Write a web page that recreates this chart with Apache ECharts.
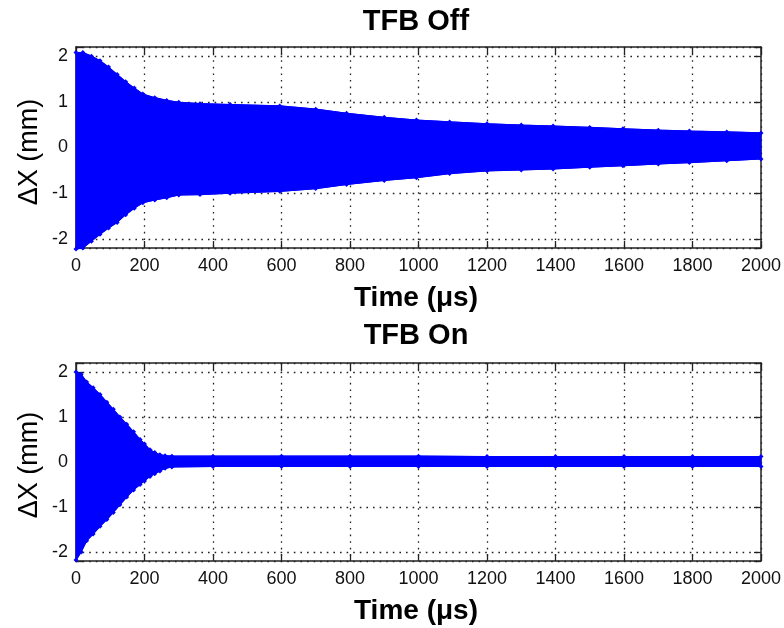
<!DOCTYPE html>
<html>
<head>
<meta charset="utf-8">
<script src="https://cdn.jsdelivr.net/npm/echarts@6/dist/echarts.min.js"></script>
<style>
html,body{margin:0;padding:0;background:#fff;}
#chart{width:784px;height:628px;}
</style>
</head>
<body>
<div id="chart"></div>
<script>
// ---- Data (envelope of the beam position cloud) ----
// TFB Off
const offTime  = [0, 20, 45, 70, 95, 120, 145, 170, 195, 230, 265, 300, 362, 450, 595, 700, 790, 900, 994, 1091, 1200, 1300, 1393, 1500, 1597, 1700, 1791, 1900, 2000];
const offUpper = [2.08, 2.08, 2.0, 1.9, 1.76, 1.6, 1.44, 1.3, 1.17, 1.09, 1.03, 0.99, 0.96, 0.94, 0.91, 0.84, 0.75, 0.66, 0.6, 0.56, 0.52, 0.49, 0.47, 0.44, 0.41, 0.38, 0.36, 0.34, 0.32];
const offLower = [-2.22, -2.2, -2.05, -1.9, -1.76, -1.64, -1.47, -1.33, -1.21, -1.15, -1.1, -1.04, -1.03, -1.0, -0.96, -0.9, -0.81, -0.72, -0.66, -0.57, -0.51, -0.49, -0.47, -0.43, -0.4, -0.36, -0.33, -0.29, -0.25];
// TFB On
const onTime  = [0, 15, 31, 50, 70, 90, 109, 128, 148, 168, 187, 200, 216, 230, 245, 260, 280, 400, 600, 800, 1000, 1200, 1400, 1600, 1800, 2000];
const onUpper = [2.0, 1.95, 1.78, 1.65, 1.5, 1.33, 1.17, 1.0, 0.84, 0.67, 0.5, 0.4, 0.27, 0.21, 0.16, 0.14, 0.13, 0.13, 0.13, 0.13, 0.13, 0.12, 0.12, 0.12, 0.12, 0.12];
const onLower = [-2.18, -2.0, -1.75, -1.6, -1.43, -1.28, -1.12, -0.95, -0.78, -0.62, -0.5, -0.42, -0.32, -0.26, -0.2, -0.14, -0.11, -0.1, -0.1, -0.1, -0.1, -0.1, -0.1, -0.1, -0.1, -0.1];
// Axes
const xTicks = [0, 200, 400, 600, 800, 1000, 1200, 1400, 1600, 1800, 2000];
const yTicks = [-2, -1, 0, 1, 2];
const titles = ['TFB Off', 'TFB On'];
const xLabel = 'Time (\u03bcs)';
const yLabel = '\u0394X (mm)';

const FONT = "'Liberation Sans', Arial, Helvetica, sans-serif";
const BLUE = '#0000ff';
const FRAME = '#222';

const grids = [
  {left: 76, right: 22, top: 47, height: 201},
  {left: 76, right: 22, top: 363, height: 198}
];

const xAxes = [], yAxes = [], series = [];
grids.forEach((g, gi) => {
  const common = {
    type: 'value', gridIndex: gi,
    axisLine: {show: true, onZero: false, lineStyle: {color: FRAME, width: 1.5}},
    axisTick: {show: true, inside: true, length: 7, lineStyle: {color: FRAME, width: 1.3}}
  };
  xAxes.push(Object.assign({}, common, {
    position: 'bottom', min: xTicks[0], max: xTicks[xTicks.length - 1], interval: xTicks[1] - xTicks[0],
    axisLabel: {show: true, fontSize: 18, color: '#111', fontFamily: FONT, margin: 9,
      formatter: v => (xTicks.indexOf(v) >= 0 ? String(v) : '')},
    splitLine: {show: true, lineStyle: {type: [1.6, 5], color: '#222', width: 1.3}}
  }));
  xAxes.push(Object.assign({}, common, {
    position: 'top', min: xTicks[0], max: xTicks[xTicks.length - 1], interval: xTicks[1] - xTicks[0],
    axisLabel: {show: false}, splitLine: {show: false}
  }));
  yAxes.push(Object.assign({}, common, {
    position: 'left', min: -2.2, max: 2.2, splitNumber: 5,
    axisLabel: {show: true, fontSize: 18, color: '#111', fontFamily: FONT, margin: 8,
      formatter: v => (yTicks.indexOf(v) >= 0 ? String(v) : '')},
    splitLine: {show: true, lineStyle: {type: [1.6, 5], color: '#222', width: 1.3}}
  }));
  yAxes.push(Object.assign({}, common, {
    position: 'right', min: -2.2, max: 2.2, splitNumber: 5,
    axisLabel: {show: false}, splitLine: {show: false}
  }));
});

function band(gi, ts, up, lo) {
  series.push({
    type: 'custom', xAxisIndex: gi * 2, yAxisIndex: gi * 2, silent: true, z: 2,
    data: ts.map((t, i) => [t, lo[i], up[i]]),
    encode: {x: 0, y: [1, 2]},
    renderItem: function (params, api) {
      if (params.dataIndex !== 0) return null;
      const pts = [];
      for (let i = 0; i < ts.length; i++) pts.push(api.coord([ts[i], up[i]]));
      for (let i = ts.length - 1; i >= 0; i--) pts.push(api.coord([ts[i], lo[i]]));
      return {type: 'polygon', shape: {points: pts}, style: {fill: BLUE, stroke: BLUE, lineWidth: 1}};
    }
  });
  [up, lo].forEach(arr => {
    series.push({
      type: 'line', xAxisIndex: gi * 2, yAxisIndex: gi * 2, silent: true, z: 3, clip: false,
      data: ts.map((t, i) => [t, arr[i]]),
      symbol: 'diamond', symbolSize: 5, showSymbol: true, showAllSymbol: true,
      lineStyle: {color: BLUE, width: 1.2}, itemStyle: {color: BLUE}
    });
  });
}
band(0, offTime, offUpper, offLower);
band(1, onTime, onUpper, onLower);

function txt(x, y, s, size, weight, rot) {
  return {type: 'text', x: x, y: y, rotation: rot || 0, z: 10,
    style: {text: s, fontSize: size, fontWeight: weight, fontFamily: FONT, fill: '#000',
      textAlign: 'center', textVerticalAlign: 'middle'}};
}

const chart = echarts.init(document.getElementById('chart'), null, {renderer: 'canvas'});
chart.setOption({
  animation: false,
  backgroundColor: '#fff',
  grid: grids,
  xAxis: xAxes,
  yAxis: yAxes,
  series: series,
  graphic: [
    txt(416, 22, titles[0], 29, 'bold'),
    txt(416, 298, xLabel, 28, 'bold'),
    txt(30, 152, yLabel, 27, 'normal', Math.PI / 2),
    txt(416, 336, titles[1], 29, 'bold'),
    txt(416, 611, xLabel, 28, 'bold'),
    txt(30, 465, yLabel, 27, 'normal', Math.PI / 2)
  ]
});
</script>
</body>
</html>
